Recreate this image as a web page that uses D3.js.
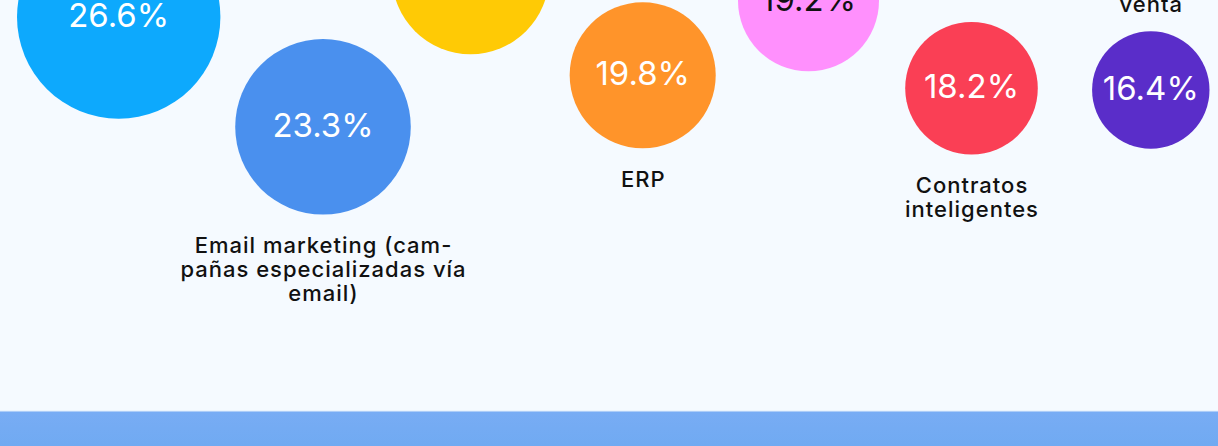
<!DOCTYPE html>
<html><head><meta charset="utf-8">
<script src="https://cdn.jsdelivr.net/npm/d3@7"></script>
<style>html,body{margin:0;padding:0;background:#F5FAFF;overflow:hidden}</style>
</head><body><svg id="chart" width="1218" height="446"></svg>
<script>
// ---- data ----
const categories = [
  "Redes sociales",
  "Email marketing (cam-\npañas especializadas vía\nemail)",
  "Comercio electrónico",
  "ERP",
  "CRM",
  "Contratos\ninteligentes",
  "Terminales punto de\nventa"
];
const values = [26.6, 23.3, 21.1, 19.8, 19.2, 18.2, 16.4];
const labelSide = ["above", "below", "above", "below", "above", "below", "above"];

// ---- layout / style (kept apart from the data) ----
const layoutX = [118.7, 323, 470.5, 642.7, 808.5, 971.5, 1150.8];
const layoutY = [17, 126.8, -24.3, 75.3, 0.8, 88.2, 90];
const fills = ["#0DA9FD", "#4A90EE", "#FFCA05", "#FF942A", "#FF90FD", "#FA3F55", "#5A2DC9"];
const valueInk = ["#ffffff", "#ffffff", "#111111", "#ffffff", "#111111", "#ffffff", "#ffffff"];

const W = 1218, H = 446;
const svg = d3.select("#chart");

const defs = svg.append("defs");
const g = defs.append("linearGradient").attr("id", "band").attr("x1", 0).attr("x2", 0).attr("y1", 0).attr("y2", 1);
g.append("stop").attr("offset", "0%").attr("stop-color", "#78ACF4");
g.append("stop").attr("offset", "100%").attr("stop-color", "#70AAF2");

svg.append("rect").attr("width", W).attr("height", H).attr("fill", "#F5FAFF");

const x = d3.scaleOrdinal(categories, layoutX);
const y = d3.scaleOrdinal(categories, layoutY);
const r = d3.scaleLinear().domain([16.4, 26.6]).range([58.7, 101.7]);
const fill = d3.scaleOrdinal(categories, fills);
const ink = d3.scaleOrdinal(categories, valueInk);
const fmt = d3.format(".1f");

const data = categories.map((c, i) => ({ c, v: values[i], side: labelSide[i] }));

const node = svg.append("g").selectAll("g").data(data).join("g");

node.append("circle")
  .attr("cx", d => x(d.c)).attr("cy", d => y(d.c)).attr("r", d => r(d.v))
  .attr("fill", d => fill(d.c));

node.append("text")
  .attr("x", d => x(d.c)).attr("y", d => y(d.c) + 10)
  .attr("text-anchor", "middle")
  .attr("font-family", "Inter, 'Noto Sans', sans-serif")
  .attr("font-size", 33).attr("font-weight", 400)
  .attr("fill", d => ink(d.c))
  .text(d => fmt(d.v) + "%");

const lineH = 24;
node.each(function (d) {
  const lines = d.c.split("\n");
  const t = d3.select(this).append("text")
    .attr("text-anchor", "middle")
    .attr("font-family", "Inter, 'Noto Sans', sans-serif")
    .attr("font-size", 22).attr("font-weight", 500)
    .attr("letter-spacing", 1.0)
    .attr("fill", "#111111");
  const cx = x(d.c), cy = y(d.c), rr = r(d.v);
  const first = d.side === "below" ? cy + rr + 38.5 : cy - rr - 19.3 - (lines.length - 1) * lineH;
  lines.forEach((ln, k) => {
    t.append("tspan").attr("x", cx + 0.5).attr("y", first + k * lineH).text(ln);
  });
});

svg.append("rect").attr("x", 0).attr("y", 410.5).attr("width", W).attr("height", 1.5).attr("fill", "#E2EEFC");
svg.append("rect").attr("x", 0).attr("y", 411.5).attr("width", W).attr("height", H - 411.5).attr("fill", "url(#band)");
</script>
</body></html>
